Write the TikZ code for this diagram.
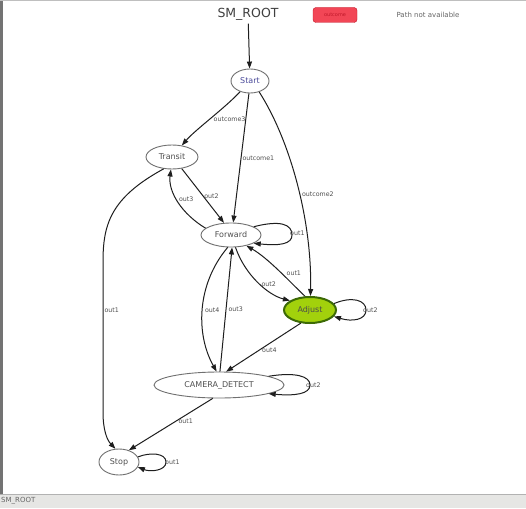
\documentclass[tikz,border=0pt]{standalone}
\usepackage{fontspec}
\setmainfont{DejaVu Sans}
\usetikzlibrary{shapes.geometric,arrows.meta}
\definecolor{edgecol}{HTML}{1E1E1E}
\definecolor{nodeborder}{HTML}{707070}
\definecolor{nodetext}{HTML}{505050}
\definecolor{starttext}{HTML}{4A4A9A}
\definecolor{adjfill}{HTML}{A2D10C}
\definecolor{adjborder}{HTML}{3C6A06}
\definecolor{redfill}{HTML}{F24656}
\definecolor{redborder}{HTML}{C0182A}
\definecolor{barcol}{HTML}{E6E6E4}
\tikzset{
  st/.style={ellipse, draw=nodeborder, line width=0.9pt, inner sep=0pt, text=nodetext,
    font=\fontsize{8}{9}\selectfont},
  tr/.style={draw=edgecol, line width=1pt, -{Triangle[length=7pt,width=5pt]}},
  lab/.style={font=\fontsize{6.3}{7}\selectfont, text=nodetext, inner sep=1pt},
}
\begin{document}
\begin{tikzpicture}[x=1pt,y=-1pt]
\useasboundingbox (0,0) rectangle (526,508);
\fill[white] (0,0) rectangle (526,508);
% window chrome
\fill[black!55] (0,0) rectangle (2.5,494);
\fill[black!25] (0,0) rectangle (526,1.5);
\fill[barcol] (0,494) rectangle (526,508);
\draw[black!30] (0,494) -- (526,494);
\node[anchor=west, font=\fontsize{7}{8}\selectfont, text=black!60, inner sep=0pt] (bar) at (1,501) {SM\_ROOT};
% header
\node[font=\fontsize{12.5}{14}\selectfont, text=black!75] (root) at (248,14) {SM\_ROOT};
\node[draw=redborder, fill=redfill, rounded corners=3pt, minimum width=44pt, minimum height=15pt,
  inner sep=0pt, font=\fontsize{5}{6}\selectfont, text=redborder] (oc) at (335,15) {outcome};
\node[font=\fontsize{7}{8}\selectfont, text=black!60] (pna) at (428,15) {Path not available};
% states
\node[st, minimum width=38pt, minimum height=24pt, text=starttext] (S) at (250,81) {Start};
\node[st, minimum width=52pt, minimum height=24pt] (T) at (172,157) {Transit};
\node[st, minimum width=60pt, minimum height=24pt] (F) at (231,235) {Forward};
\node[st, minimum width=52pt, minimum height=26pt, fill=adjfill, draw=adjborder, line width=2pt, text=black!70] (A) at (310,310) {Adjust};
\node[st, minimum width=130pt, minimum height=26pt] (C) at (219,385) {CAMERA\_DETECT};
\node[st, minimum width=40pt, minimum height=26pt] (P) at (119,462) {Stop};
% edges
\draw[tr] (root) -- (S);
\draw[tr] (S) .. controls (225,108) and (195,130) .. node[lab, right, pos=0.5, xshift=2pt] {outcome3} (T);
\draw[tr] (S.-95) -- node[lab, right, pos=0.5] {outcome1} (F.80);
\draw[tr] (S.-50) .. controls (290,140) and (312,220) .. node[lab, right, pos=0.55, xshift=1pt] {outcome2} (A.88);
\draw[tr] (T.-50) -- node[lab, right, pos=0.5] {out2} (F.120);
\draw[tr] (F.165) .. controls (182,214) and (168,192) .. node[lab, right, pos=0.55, xshift=1pt] {out3} (T.-95);
\draw[tr] (F.20) .. controls (280,220) and (292,224) .. (292,235) .. controls (292,244) and (280,246) .. (F.-20);
\node[lab, anchor=west] (l1) at (289,233) {out1};
\draw[tr] (F.-70) .. controls (245,275) and (268,295) .. node[lab, right, pos=0.5, xshift=2pt, yshift=-2pt] {out2} (A.155);
\draw[tr] (A.110) .. controls (290,282) and (268,258) .. node[lab, right, pos=0.45, xshift=4pt] {out1} (F.-35);
\draw[tr] (A.15) .. controls (352,296) and (366,300) .. (366,310) .. controls (366,320) and (352,322) .. (A.-15);
\node[lab, anchor=west] (l2) at (362,310) {out2};
\draw[tr] (F.-105) .. controls (196,285) and (196,335) .. node[lab, right, pos=0.5, xshift=1pt] {out4} (C.100);
\draw[tr] (C.86) -- node[lab, right, pos=0.5, xshift=1pt] {out3} (F.-85);
\draw[tr] (A.-125) -- node[lab, right, pos=0.55, xshift=1pt] {out4} (C.62);
\draw[tr] (C.10) .. controls (295,372) and (310,376) .. (310,385) .. controls (310,394) and (295,396) .. (C.-10);
\node[lab, anchor=west] (l3) at (305,385) {out2};
\draw[tr] (T.-125) .. controls (110,198) and (103,225) .. (103,262) -- (103,412) .. controls (103,430) and (107,440) .. node[lab, right, pos=0.0, yshift=102pt] {out1} (P.105);
\draw[tr] (C.-115) -- node[lab, right, pos=0.45, xshift=2pt] {out1} (P.50);
\draw[tr] (P.15) .. controls (150,452) and (166,453) .. (166,462) .. controls (166,471) and (150,472) .. (P.-15);
\node[lab, anchor=west] (l4) at (164,462) {out1};
\end{tikzpicture}
\end{document}
